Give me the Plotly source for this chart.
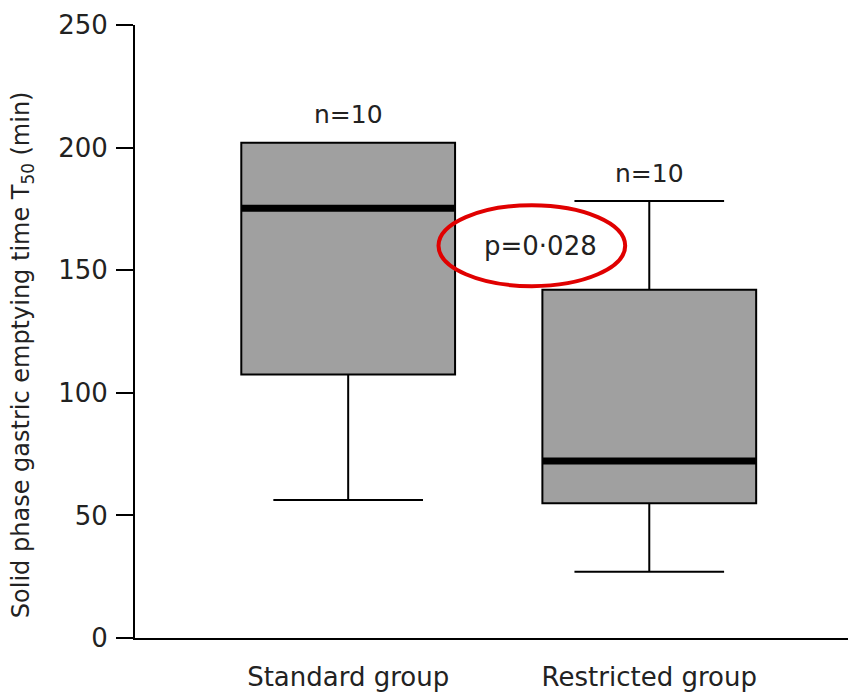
import plotly.graph_objects as go

groups = ["Standard group", "Restricted group"]
q1 = [107.5, 55.0]
median = [175.3, 72.2]
q3 = [202.0, 142.0]
lower_fence = [56.3, 27.0]
upper_fence = [202.0, 178.2]
n_labels = ["n=10", "n=10"]
p_text = "p=0·028"
y_ticks = [0, 50, 100, 150, 200, 250]

BOX_W = 0.71
FONT = "DejaVu Sans"
TXT = "#222222"

fig = go.Figure()
fig.add_trace(go.Box(
    x=groups, q1=q1, median=median, q3=q3,
    lowerfence=lower_fence, upperfence=upper_fence,
    width=BOX_W, whiskerwidth=0.7,
    fillcolor="#a0a0a0", line=dict(color="black", width=2),
    boxpoints=False, showlegend=False, hoverinfo="skip",
))

# thick median lines
for i, m in enumerate(median):
    fig.add_shape(type="line", xref="x", yref="y",
                  x0=i - BOX_W / 2, x1=i + BOX_W / 2, y0=m, y1=m,
                  line=dict(color="black", width=7), layer="above")

# n labels
for i, (lab, uf) in enumerate(zip(n_labels, upper_fence)):
    fig.add_annotation(x=groups[i], y=uf, text=lab, showarrow=False,
                       yshift=28, font=dict(family=FONT, size=25, color=TXT))

# p-value with red ellipse
fig.add_annotation(x=0.64, y=160, xref="x", yref="y", text=p_text, showarrow=False,
                   font=dict(family=FONT, size=26, color=TXT))
fig.add_shape(type="circle", xref="x", yref="y", x0=0.30, x1=0.92, y0=143.5, y1=176.5,
              line=dict(color="#e00000", width=4), layer="above")

# y-axis title
fig.add_annotation(xref="paper", yref="paper", x=-0.158, y=0.462,
                   text="Solid phase gastric emptying time T<sub>50</sub> (min)",
                   textangle=-90, showarrow=False, xanchor="center", yanchor="middle",
                   font=dict(family=FONT, size=24, color=TXT))

fig.update_layout(
    width=850, height=693,
    margin=dict(l=135, r=2, t=25, b=55, autoexpand=False),
    plot_bgcolor="white", paper_bgcolor="white",
    font=dict(family=FONT, size=24, color=TXT),
    xaxis=dict(range=[-0.708, 1.66], showline=True, linecolor="black", linewidth=2,
               showgrid=False, zeroline=False, ticks="", ticklabelstandoff=15,
               automargin=False, tickfont=dict(size=26)),
    yaxis=dict(range=[0, 250], tickvals=y_ticks, showline=True, linecolor="black",
               linewidth=2, showgrid=False, zeroline=False, ticks="outside",
               ticklen=17, tickwidth=2, tickcolor="black", ticklabelstandoff=3,
               automargin=False, tickfont=dict(size=26)),
)

fig.write_html("out.html")
